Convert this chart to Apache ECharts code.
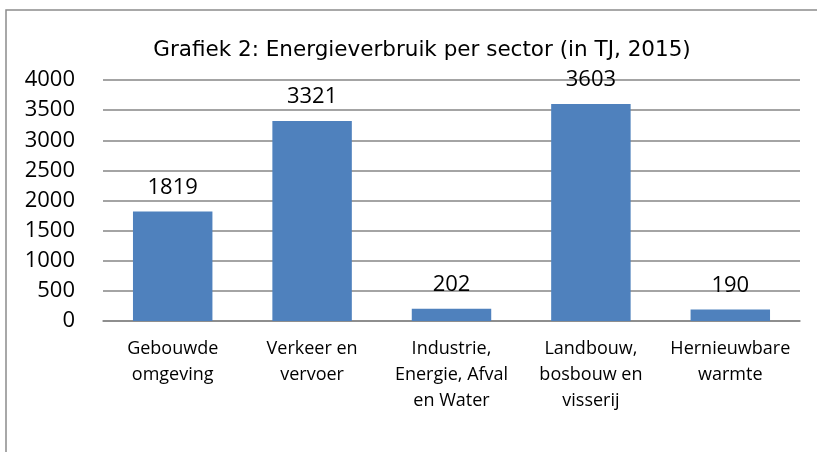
<!DOCTYPE html>
<html><head><meta charset="utf-8">
<script src="https://cdn.jsdelivr.net/npm/echarts@6/dist/echarts.min.js"></script>
<style>html,body{margin:0;padding:0;background:#fff}#c{width:817px;height:452px}</style>
</head><body><div id="c"></div>
<script>
const categories = ['Gebouwde\nomgeving','Verkeer en\nvervoer','Industrie,\nEnergie, Afval\nen Water','Landbouw,\nbosbouw en\nvisserij','Hernieuwbare\nwarmte'];
const values = [1819, 3321, 202, 3603, 190];
const titleText = 'Grafiek 2: Energieverbruik per sector (in TJ, 2015)';
const chart = echarts.init(document.getElementById('c'), null, {renderer:'canvas'});
const font = '"Open Sans", "Liberation Sans", Arial, sans-serif';
chart.setOption({
  animation:false,
  backgroundColor:'#fff',
  title:{text:titleText,left:417,top:34,textAlign:'center',
    textStyle:{fontFamily:'"DejaVu Sans",Verdana,sans-serif',fontSize:21.5,fontWeight:'normal',color:'#000'}},
  graphic:[{type:'rect',shape:{x:6,y:10,width:840,height:500},style:{fill:'none',stroke:'#8c8c8c',lineWidth:1.5},z:-1}],
  grid:{left:103,right:17,top:80,bottom:131,containLabel:false},
  xAxis:{type:'category',data:categories,
    axisLine:{show:true,lineStyle:{color:'#868686',width:1.5}},
    axisTick:{show:false},
    axisLabel:{interval:0,fontFamily:font,fontSize:18,color:'#000',lineHeight:26,margin:15}},
  yAxis:{type:'value',min:0,max:4000,interval:500,
    axisLine:{show:false},axisTick:{show:false},
    splitLine:{lineStyle:{color:'#868686',width:1.5}},
    axisLabel:{fontFamily:font,fontSize:22,color:'#000',margin:28,formatter:function(v){return String(v);}}},
  series:[{type:'bar',data:values,barWidth:'57%',itemStyle:{color:'#4F81BD'},
    label:{show:true,position:'top',distance:13,fontFamily:font,fontSize:22,color:'#000'}}]
});
</script></body></html>
